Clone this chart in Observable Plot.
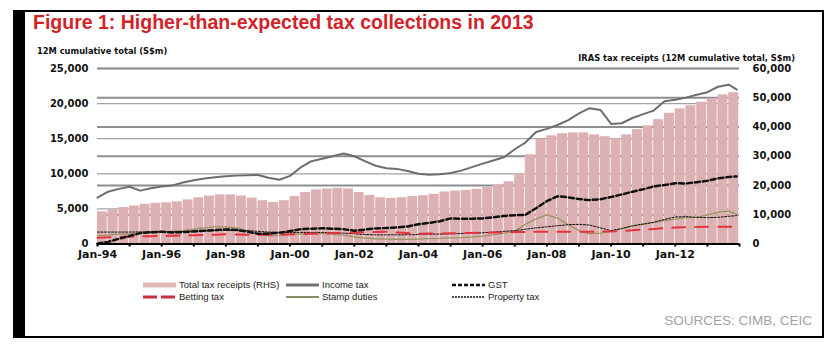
<!DOCTYPE html>
<html><head><meta charset="utf-8">
<script src="https://cdn.jsdelivr.net/npm/d3@7"></script>
<script src="https://cdn.jsdelivr.net/npm/@observablehq/plot@0.6"></script>
<style>
body{margin:0;background:#fff;}
#wrap{position:relative;width:833px;height:354px;overflow:hidden;background:#fff;font-family:"Liberation Sans",Arial,sans-serif;}
.abs{position:absolute;}
#title{left:33px;top:11px;font-size:19.5px;font-weight:bold;color:#d2232a;white-space:nowrap;}
.sub{font-family:"DejaVu Sans",sans-serif;font-weight:bold;font-size:8.3px;color:#111;white-space:nowrap;}
.leg{font-size:9.5px;color:#222;white-space:nowrap;line-height:12px;}
#src{right:21px;top:313px;font-size:13.5px;color:#a3a3a3;white-space:nowrap;}
#chart{left:0;top:0;}
</style></head><body><div id="wrap">
<div class="abs" style="left:13px;top:10px;width:12px;height:328px;background:#000"></div>
<div class="abs" style="left:13px;top:10px;width:811px;height:1.5px;background:#000"></div>
<div class="abs" style="left:822px;top:10px;width:1.5px;height:328px;background:#000"></div>
<div class="abs" style="left:13px;top:336px;width:811px;height:2px;background:#000"></div>
<div id="chart" class="abs"></div>
<div id="title" class="abs">Figure 1: Higher-than-expected tax collections in 2013</div>
<div class="abs sub" style="left:37px;top:46px;">12M cumulative total (S$m)</div>
<div class="abs sub" style="right:38px;top:53px;">IRAS tax receipts (12M cumulative total, S$m)</div>
<div id="legend"></div>
<div id="src" class="abs">SOURCES: CIMB, CEIC</div>
</div>
<script>
// Period start dates (4-month steps) plus end point for lines
const periods = ["1994-01","1994-05","1994-09","1995-01","1995-05","1995-09","1996-01","1996-05","1996-09","1997-01",
"1997-05","1997-09","1998-01","1998-05","1998-09","1999-01","1999-05","1999-09","2000-01","2000-05",
"2000-09","2001-01","2001-05","2001-09","2002-01","2002-05","2002-09","2003-01","2003-05","2003-09",
"2004-01","2004-05","2004-09","2005-01","2005-05","2005-09","2006-01","2006-05","2006-09","2007-01",
"2007-05","2007-09","2008-01","2008-05","2008-09","2009-01","2009-05","2009-09","2010-01","2010-05",
"2010-09","2011-01","2011-05","2011-09","2012-01","2012-05","2012-09","2013-01","2013-05","2013-09","2013-12"];

// Total tax receipts (RHS, S$m) – one per 4-month bar
const totalTax = [11000,11700,12450,13000,13600,13900,14100,14400,15100,15800,
16400,16800,16800,16400,15700,14800,14200,14800,16200,17600,
18500,18800,19000,18800,17600,16600,15800,15600,15800,16200,
16500,17000,17800,18100,18300,18700,19300,20200,21300,24000,
30500,35800,37000,37700,38000,38000,37300,36700,36000,37300,
39100,40400,42500,44700,46200,47300,48500,49700,51000,51700];

// LHS series (S$m)
const incomeTax = [6600,7450,7850,8150,7600,7950,8180,8350,8750,9080,
9330,9520,9650,9740,9800,9840,9450,9150,9700,10900,
11800,12150,12500,12900,12500,11800,11150,10800,10700,10400,
10000,9850,9950,10100,10450,10950,11450,11900,12350,13500,
14450,15950,16400,16950,17650,18600,19350,19100,17100,17200,
17950,18500,19000,20350,20550,20850,21250,21620,22400,22700,22000];
const gst = [50,300,750,1150,1550,1680,1750,1650,1700,1780,
1900,1980,2080,2000,1750,1450,1500,1600,1850,2100,
2180,2240,2180,2100,1900,2050,2220,2280,2350,2500,
2820,3000,3250,3650,3600,3600,3650,3800,4000,4100,
4150,5100,6100,6800,6650,6400,6250,6380,6700,7050,
7450,7800,8200,8400,8650,8620,8800,9000,9350,9550,9620];
const bettingTax = [900,950,1000,1050,1080,1100,1150,1180,1200,1250,
1280,1320,1380,1360,1320,1300,1320,1350,1380,1420,
1460,1500,1540,1580,1620,1680,1720,1750,1650,1550,
1450,1480,1500,1520,1550,1580,1600,1630,1660,1700,
1720,1740,1760,1750,1740,1730,1740,1760,1780,1850,
1950,2050,2150,2250,2350,2400,2430,2450,2460,2470,2470];
const stampDuties = [1200,1300,1400,1450,1500,1600,1700,1800,1900,2100,
2300,2450,2450,2300,1900,1400,1150,1200,1350,1450,
1500,1480,1400,1250,1000,850,750,700,680,670,
700,760,800,880,920,1000,1120,1300,1550,1850,
2800,3580,4140,3700,2750,1900,1450,1550,1850,2200,
2500,2800,3050,3350,3550,3750,3800,4150,4550,4680,4250];
const propertyTax = [1700,1700,1700,1700,1720,1720,1750,1750,1780,1800,
1850,1900,1950,1950,1900,1800,1700,1650,1650,1650,
1650,1650,1600,1550,1450,1350,1300,1300,1300,1320,
1350,1400,1420,1450,1500,1550,1600,1700,1800,1900,
2100,2300,2450,2600,2750,2800,2700,2300,1900,2200,
2600,2850,3100,3500,3850,3900,3800,3750,3800,3950,4050];

const leftTicks = [0,5000,10000,15000,20000,25000];
const rightTicks = [0,10000,20000,30000,40000,50000,60000];
const xTickYears = ["1994","1995","1996","1997","1998","1999","2000","2001","2002","2003","2004",
"2005","2006","2007","2008","2009","2010","2011","2012","2013","2014"];
const xLabelYears = ["1994","1996","1998","2000","2002","2004","2006","2008","2010","2012"];

const R = 60000/25000; // RHS to LHS ratio
const parseM = d3.utcParse("%Y-%m");
const parseY = d3.utcParse("%Y");
const dates = periods.map(parseM);
const bars = totalTax.map((v,i)=>({x1:dates[i], x2:d3.utcMonth.offset(dates[i],4), v:v/R}));
const mk = arr => arr.map((v,i)=>({date:dates[i], v}));
const tickDates = xTickYears.map(parseY);
const labelSet = new Set(xLabelYears);

const chart = Plot.plot({
  width:833, height:354,
  marginLeft:97, marginRight:94, marginTop:68, marginBottom:110.5,
  x:{type:"utc", domain:[parseY("1994"), parseY("2014")]},
  y:{domain:[0,25000]},
  style:{background:"transparent", overflow:"visible"},
  marks:[
    Plot.ruleY(leftTicks.filter(d=>d>0), {stroke:"#a2a2a2", strokeWidth:1.3}),
    Plot.ruleY(rightTicks.filter(d=>d>0).map(d=>d/R), {stroke:"#8e8e8e", strokeWidth:2}),
    Plot.rectY(bars, {x1:"x1", x2:"x2", y:"v", fill:"#ddb1b3", insetRight:0.8}),
    Plot.line(mk(stampDuties), {x:"date", y:"v", stroke:"#9a9462", strokeWidth:1.3}),
    Plot.line(mk(propertyTax), {x:"date", y:"v", stroke:"#111", strokeWidth:1, strokeDasharray:"2,1.5"}),
    Plot.line(mk(bettingTax), {x:"date", y:"v", stroke:"#e5323c", strokeWidth:2, strokeDasharray:"13,10"}),
    Plot.line(mk(gst), {x:"date", y:"v", stroke:"#111", strokeWidth:2.5, strokeDasharray:"5,3"}),
    Plot.line(mk(incomeTax), {x:"date", y:"v", stroke:"#6e6e6e", strokeWidth:2}),
    Plot.ruleY([0], {stroke:"#000", strokeWidth:2}),
    Plot.axisX({ticks:tickDates, tickSize:3, tickPadding:3, strokeWidth:2, stroke:"#000",
      tickFormat:d=>{const y=String(d.getUTCFullYear()); return labelSet.has(y) ? "Jan-"+y.slice(2) : "";},
      fontFamily:"DejaVu Sans", fontWeight:"bold", fontSize:11, fill:"#111", label:null}),
    Plot.axisY({anchor:"left", ticks:leftTicks, tickSize:0, tickPadding:9, tickFormat:d3.format(","),
      fontFamily:"DejaVu Sans", fontWeight:"bold", fontSize:10, fill:"#111", label:null}),
    Plot.axisY({anchor:"right", ticks:rightTicks.map(d=>d/R), tickSize:0, tickPadding:13,
      tickFormat:d=>d3.format(",")(Math.round(d*R)),
      fontFamily:"DejaVu Sans", fontWeight:"bold", fontSize:10, fill:"#111", label:null})
  ]
});
document.getElementById("chart").appendChild(chart);

// Legend
const legendItems = [
  {label:"Total tax receipts (RHS)", kind:"rect", color:"#e2b9bb", col:0, row:0},
  {label:"Income tax", kind:"line", color:"#707070", w:3, dash:null, col:1, row:0},
  {label:"GST", kind:"line", color:"#111", w:2.5, dash:"4,2", col:2, row:0},
  {label:"Betting tax", kind:"line", color:"#c8303a", w:3, dash:"14,4", col:0, row:1},
  {label:"Stamp duties", kind:"line", color:"#8d8d62", w:2, dash:null, col:1, row:1},
  {label:"Property tax", kind:"line", color:"#111", w:1.5, dash:"2,1", col:2, row:1}
];
const colX = [143, 286, 452];
const rowY = [285, 297];
const leg = document.getElementById("legend");
for (const it of legendItems) {
  const x = colX[it.col], y = rowY[it.row];
  const sw = document.createElementNS("http://www.w3.org/2000/svg","svg");
  sw.setAttribute("width", 34); sw.setAttribute("height", 8);
  sw.style.position="absolute"; sw.style.left=x+"px"; sw.style.top=(y-4)+"px";
  if (it.kind==="rect") {
    sw.innerHTML = `<rect x="0" y="1.5" width="33" height="5" fill="${it.color}"/>`;
  } else {
    sw.innerHTML = `<line x1="0" x2="33" y1="4" y2="4" stroke="${it.color}" stroke-width="${it.w}" ${it.dash?`stroke-dasharray="${it.dash}"`:""}/>`;
  }
  leg.appendChild(sw);
  const t = document.createElement("div");
  t.className="abs leg"; t.textContent = it.label;
  t.style.left=(x+36)+"px"; t.style.top=(y-6.5)+"px";
  leg.appendChild(t);
}
</script>
</body></html>
